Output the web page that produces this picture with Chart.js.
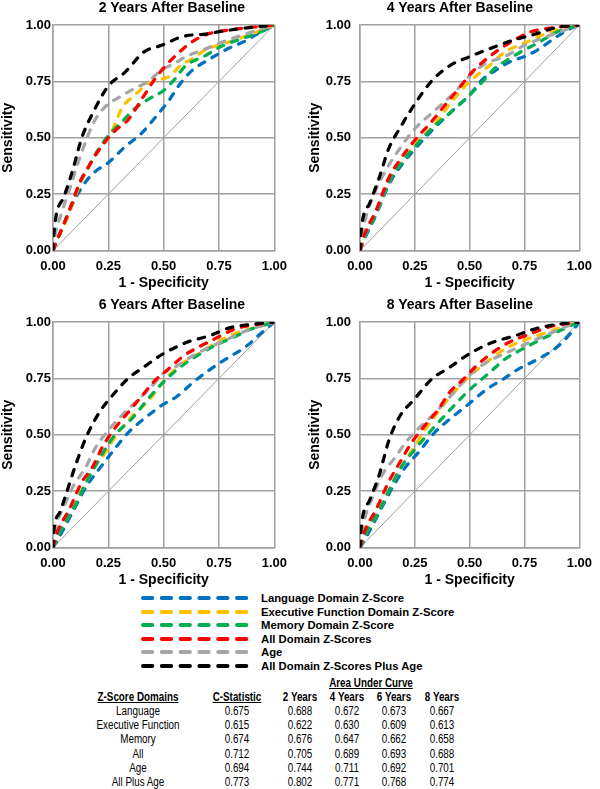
<!DOCTYPE html>
<html>
<head>
<meta charset="utf-8">
<script src="https://cdn.jsdelivr.net/npm/chart.js@4.4.1/dist/chart.umd.min.js"></script>
<style>
  body { margin: 0; width: 600px; height: 789px; position: relative; overflow: hidden; background: #fff;
         font-family: "Liberation Sans", Arial, sans-serif; color: #000; }
  canvas { position: absolute; }
  .ptitle { position: absolute; font-weight: bold; font-size: 14px; line-height: 16px; white-space: nowrap; transform: translateX(-50%); }
  .leg { position: absolute; left: 140px; width: 300px; height: 14px; }
  .leg svg { position: absolute; left: 0; top: 0; }
  .leg span { position: absolute; left: 121px; top: 0; line-height: 14px; font-size: 11.3px; font-weight: bold; white-space: nowrap; }
  /* narrow look of the original table font */
  .cell { position: absolute; transform: translateX(-50%) scaleX(0.82); white-space: nowrap; line-height: 14px; font-size: 12px; }
  .hd { font-weight: bold; text-decoration: underline; }
  .hd2 { font-weight: bold; }
</style>
</head>
<body>
<canvas id="c1" width="295" height="292" style="left:0;top:0"></canvas>
<canvas id="c2" width="293" height="292" style="left:307px;top:0"></canvas>
<canvas id="c3" width="295" height="292" style="left:0;top:297px"></canvas>
<canvas id="c4" width="293" height="292" style="left:307px;top:297px"></canvas>
<div id="extras"></div>
<script>
// series (legend order)
const seriesNames = ['Language Domain Z-Score', 'Executive Function Domain Z-Score', 'Memory Domain Z-Score',
  'All Domain Z-Scores', 'Age', 'All Domain Z-Scores Plus Age'];
const seriesColors = ['#0070C0', '#FFC000', '#00B050', '#FF0000', '#A6A6A6', '#000000'];
const tickValues = [0, 0.25, 0.5, 0.75, 1];

// ROC points [1 - specificity, sensitivity]
const lang2 = [[0,0],[0.02,0.05],[0.05,0.12],[0.09,0.21],[0.13,0.28],[0.16,0.32],[0.19,0.35],[0.25,0.39],[0.325,0.46],[0.40,0.52],[0.47,0.60],[0.52,0.66],[0.575,0.74],[0.63,0.80],[0.71,0.85],[0.78,0.89],[0.87,0.93],[0.94,0.97],[1,1]];
const exec2 = [[0,0],[0.02,0.05],[0.05,0.11],[0.09,0.21],[0.12,0.29],[0.16,0.37],[0.2,0.44],[0.25,0.50],[0.28,0.56],[0.31,0.63],[0.37,0.69],[0.43,0.74],[0.49,0.76],[0.53,0.775],[0.575,0.82],[0.63,0.85],[0.69,0.89],[0.78,0.92],[0.87,0.95],[1,1]];
const mem2 = [[0,0],[0.02,0.05],[0.05,0.12],[0.09,0.22],[0.12,0.30],[0.16,0.37],[0.2,0.44],[0.25,0.51],[0.31,0.57],[0.37,0.63],[0.43,0.67],[0.5,0.71],[0.55,0.76],[0.6,0.82],[0.68,0.86],[0.77,0.91],[0.855,0.94],[0.94,0.97],[1,1]];
const all2 = [[0,0],[0.02,0.05],[0.05,0.12],[0.09,0.22],[0.12,0.30],[0.16,0.37],[0.19,0.42],[0.25,0.50],[0.29,0.54],[0.34,0.58],[0.40,0.67],[0.46,0.76],[0.5,0.81],[0.56,0.87],[0.62,0.92],[0.70,0.96],[0.81,0.98],[1,1]];
const age2 = [[0,0],[0.01,0.07],[0.04,0.17],[0.074,0.27],[0.11,0.38],[0.15,0.49],[0.19,0.58],[0.25,0.65],[0.3,0.68],[0.37,0.72],[0.43,0.75],[0.49,0.80],[0.55,0.83],[0.6,0.86],[0.68,0.89],[0.78,0.93],[0.9,0.97],[1,1]];
const allAge2 = [[0,0],[0.003,0.066],[0.05,0.24],[0.09,0.36],[0.13,0.50],[0.18,0.61],[0.25,0.73],[0.325,0.79],[0.41,0.88],[0.49,0.91],[0.59,0.95],[0.69,0.96],[0.78,0.975],[0.9,0.99],[1,1]];

const lang4 = [[0,0],[0.02,0.05],[0.074,0.16],[0.13,0.29],[0.19,0.38],[0.25,0.45],[0.325,0.53],[0.41,0.61],[0.5,0.69],[0.56,0.76],[0.62,0.80],[0.69,0.84],[0.75,0.86],[0.81,0.89],[0.885,0.94],[0.94,0.975],[1,1]];
const exec4 = [[0,0],[0.02,0.06],[0.074,0.17],[0.13,0.30],[0.18,0.38],[0.25,0.47],[0.34,0.56],[0.41,0.65],[0.47,0.72],[0.53,0.775],[0.59,0.82],[0.66,0.88],[0.75,0.92],[0.87,0.97],[1,1]];
const mem4 = [[0,0],[0.02,0.06],[0.074,0.17],[0.13,0.30],[0.19,0.39],[0.25,0.46],[0.325,0.54],[0.41,0.61],[0.5,0.69],[0.56,0.75],[0.605,0.80],[0.68,0.85],[0.75,0.89],[0.81,0.92],[0.9,0.97],[1,1]];
const all4 = [[0,0],[0.02,0.07],[0.074,0.18],[0.13,0.32],[0.18,0.40],[0.25,0.49],[0.325,0.57],[0.40,0.66],[0.46,0.73],[0.5,0.78],[0.59,0.86],[0.68,0.92],[0.78,0.97],[0.9,0.99],[1,1]];
const age4 = [[0,0],[0.015,0.10],[0.06,0.24],[0.12,0.36],[0.18,0.45],[0.25,0.54],[0.34,0.62],[0.43,0.70],[0.5,0.775],[0.575,0.83],[0.66,0.86],[0.75,0.91],[0.855,0.95],[1,1]];
const allAge4 = [[0,0],[0.003,0.066],[0.044,0.21],[0.09,0.33],[0.13,0.45],[0.18,0.54],[0.25,0.65],[0.325,0.75],[0.41,0.82],[0.5,0.86],[0.605,0.90],[0.69,0.93],[0.8,0.96],[0.9,0.99],[1,1]];

const lang6 = [[0,0],[0.03,0.05],[0.09,0.16],[0.15,0.27],[0.21,0.35],[0.265,0.42],[0.34,0.51],[0.41,0.57],[0.49,0.63],[0.56,0.67],[0.63,0.73],[0.71,0.79],[0.78,0.835],[0.87,0.89],[0.94,0.95],[1,1]];
const exec6 = [[0,0],[0.025,0.06],[0.09,0.17],[0.15,0.29],[0.19,0.36],[0.235,0.42],[0.28,0.49],[0.355,0.58],[0.43,0.65],[0.52,0.76],[0.59,0.82],[0.66,0.86],[0.74,0.91],[0.825,0.95],[0.93,0.98],[1,1]];
const mem6 = [[0,0],[0.025,0.06],[0.09,0.17],[0.15,0.29],[0.19,0.36],[0.235,0.435],[0.28,0.50],[0.355,0.57],[0.43,0.66],[0.5,0.735],[0.575,0.80],[0.65,0.85],[0.72,0.89],[0.81,0.93],[0.9,0.97],[1,1]];
const all6 = [[0,0],[0.02,0.07],[0.074,0.17],[0.13,0.29],[0.18,0.36],[0.22,0.44],[0.265,0.51],[0.34,0.60],[0.40,0.67],[0.46,0.74],[0.52,0.79],[0.59,0.85],[0.66,0.89],[0.74,0.93],[0.825,0.97],[0.93,0.99],[1,1]];
const age6 = [[0,0],[0.015,0.10],[0.044,0.17],[0.09,0.27],[0.15,0.36],[0.19,0.44],[0.25,0.52],[0.325,0.60],[0.40,0.67],[0.46,0.73],[0.5,0.775],[0.56,0.805],[0.63,0.85],[0.69,0.88],[0.78,0.92],[0.87,0.96],[1,1]];
const allAge6 = [[0,0],[0.003,0.066],[0.03,0.155],[0.06,0.24],[0.10,0.36],[0.15,0.49],[0.21,0.60],[0.265,0.67],[0.34,0.75],[0.41,0.80],[0.5,0.86],[0.605,0.91],[0.71,0.94],[0.8,0.975],[0.9,0.99],[1,1]];

const lang8 = [[0,0],[0.03,0.05],[0.09,0.16],[0.15,0.27],[0.21,0.36],[0.265,0.42],[0.34,0.51],[0.41,0.57],[0.5,0.64],[0.575,0.70],[0.65,0.745],[0.72,0.79],[0.81,0.835],[0.9,0.89],[0.96,0.95],[1,1]];
const exec8 = [[0,0],[0.025,0.06],[0.09,0.17],[0.15,0.29],[0.19,0.36],[0.25,0.45],[0.295,0.52],[0.355,0.60],[0.43,0.69],[0.5,0.76],[0.575,0.82],[0.66,0.88],[0.75,0.92],[0.84,0.95],[0.93,0.98],[1,1]];
const mem8 = [[0,0],[0.025,0.06],[0.09,0.17],[0.15,0.29],[0.19,0.36],[0.25,0.435],[0.325,0.52],[0.41,0.61],[0.5,0.70],[0.59,0.775],[0.66,0.835],[0.75,0.885],[0.84,0.93],[0.93,0.97],[1,1]];
const all8 = [[0,0],[0.02,0.07],[0.074,0.17],[0.13,0.29],[0.18,0.375],[0.235,0.465],[0.295,0.54],[0.355,0.61],[0.41,0.69],[0.47,0.745],[0.53,0.805],[0.605,0.865],[0.68,0.91],[0.77,0.945],[0.87,0.98],[1,1]];
const age8 = [[0,0],[0.015,0.10],[0.06,0.23],[0.10,0.32],[0.16,0.40],[0.22,0.48],[0.28,0.54],[0.355,0.61],[0.43,0.69],[0.5,0.765],[0.575,0.82],[0.66,0.86],[0.75,0.90],[0.855,0.945],[0.94,0.98],[1,1]];
const allAge8 = [[0,0],[0.003,0.066],[0.044,0.21],[0.09,0.33],[0.13,0.47],[0.18,0.58],[0.25,0.66],[0.325,0.745],[0.41,0.80],[0.5,0.86],[0.605,0.91],[0.71,0.94],[0.8,0.97],[0.9,0.99],[1,1]];

// table
const domainNames = ['Language', 'Executive Function', 'Memory', 'All', 'Age', 'All Plus Age'];
const cStatistic = ['0.675', '0.615', '0.674', '0.712', '0.694', '0.773'];
const auc2 = ['0.688', '0.622', '0.676', '0.705', '0.744', '0.802'];
const auc4 = ['0.672', '0.630', '0.647', '0.689', '0.711', '0.771'];
const auc6 = ['0.673', '0.609', '0.662', '0.693', '0.692', '0.768'];
const auc8 = ['0.667', '0.613', '0.658', '0.688', '0.701', '0.774'];

const panels = [
  { id: 'c1', title: '2 Years After Baseline', curves: [lang2, exec2, mem2, all2, age2, allAge2], tickPad: 2, titleX: 172, titleY: 7 },
  { id: 'c2', title: '4 Years After Baseline', curves: [lang4, exec4, mem4, all4, age4, allAge4], tickPad: 9, titleX: 460, titleY: 7 },
  { id: 'c3', title: '6 Years After Baseline', curves: [lang6, exec6, mem6, all6, age6, allAge6], tickPad: 2, titleX: 172, titleY: 304 },
  { id: 'c4', title: '8 Years After Baseline', curves: [lang8, exec8, mem8, all8, age8, allAge8], tickPad: 9, titleX: 460, titleY: 304 }
];

// first in this list ends up on top
const drawOrder = [5, 3, 4, 2, 1, 0];

Chart.defaults.font.family = '"Liberation Sans", Arial, sans-serif';
Chart.defaults.color = '#000';

const extras = document.getElementById('extras');

function axisOpts(titleText, isY, tickPad) {
  return {
    type: 'linear',
    min: 0,
    max: 1,
    afterBuildTicks: axis => { axis.ticks = tickValues.map(v => ({ value: v })); },
    afterFit: axis => {
      if (isY) axis.width = 53; else axis.height = 41.4;
    },
    ticks: {
      padding: isY ? tickPad : 8,
      font: { size: 13, weight: 'bold' },
      callback: v => Number(v).toFixed(2)
    },
    grid: { color: '#a0a0a0', lineWidth: 1.5, drawTicks: false },
    border: { color: '#a0a0a0', width: 1.5 },
    title: { display: true, text: titleText, padding: 0, font: { size: 14, weight: 'bold' } }
  };
}

panels.forEach(p => {
  const datasets = drawOrder.map(i => ({
    label: seriesNames[i],
    data: p.curves[i].map(pt => ({ x: pt[0], y: pt[1] })),
    borderColor: seriesColors[i],
    borderWidth: 3.25,
    borderDash: [6.5, 8.5],
    borderCapStyle: 'round',
    showLine: true,
    pointRadius: 0,
    tension: 0.2,
    cubicInterpolationMode: 'monotone'
  }));
  // reference diagonal
  datasets.push({
    label: 'chance',
    data: [{ x: 0, y: 0 }, { x: 1, y: 1 }],
    borderColor: '#a0a0a0',
    borderWidth: 1,
    showLine: true,
    pointRadius: 0
  });

  new Chart(document.getElementById(p.id), {
    type: 'scatter',
    data: { datasets: datasets },
    options: {
      responsive: false,
      animation: false,
      layout: { padding: { top: 25, right: 15, left: 0, bottom: 0 } },
      plugins: { legend: { display: false }, tooltip: { enabled: false } },
      scales: {
        x: axisOpts('1 - Specificity', false, 0),
        y: axisOpts('Sensitivity', true, p.tickPad)
      }
    }
  });

  const t = document.createElement('div');
  t.className = 'ptitle';
  t.style.left = p.titleX + 'px';
  t.style.top = (p.titleY - 8) + 'px';
  t.textContent = p.title;
  extras.appendChild(t);
});

// legend
seriesNames.forEach((name, i) => {
  const row = document.createElement('div');
  row.className = 'leg';
  row.style.top = (591 + i * 13.5) + 'px';
  row.innerHTML = '<svg width="112" height="14"><line x1="3" y1="7" x2="107" y2="7" stroke="' + seriesColors[i] +
    '" stroke-width="4" stroke-linecap="round" stroke-dasharray="9.3 9.5"/></svg><span>' + name + '</span>';
  extras.appendChild(row);
});

// table
function cell(text, cx, cy, cls) {
  const d = document.createElement('div');
  d.className = 'cell' + (cls ? ' ' + cls : '');
  d.style.left = cx + 'px';
  d.style.top = (cy - 7) + 'px';
  d.textContent = text;
  extras.appendChild(d);
}
const colX = [137.5, 237, 299.5, 347, 394, 441.5];
cell('Area Under Curve', 371, 683, 'hd');
['Z-Score Domains', 'C-Statistic'].forEach((h, i) => cell(h, colX[i], 697, 'hd'));
['2 Years', '4 Years', '6 Years', '8 Years'].forEach((h, i) => cell(h, colX[i + 2], 697, 'hd2'));
const cols = [domainNames, cStatistic, auc2, auc4, auc6, auc8];
domainNames.forEach((_, r) => {
  cols.forEach((col, c) => cell(col[r], colX[c], 711 + r * 14.2));
});
</script>
</body>
</html>
